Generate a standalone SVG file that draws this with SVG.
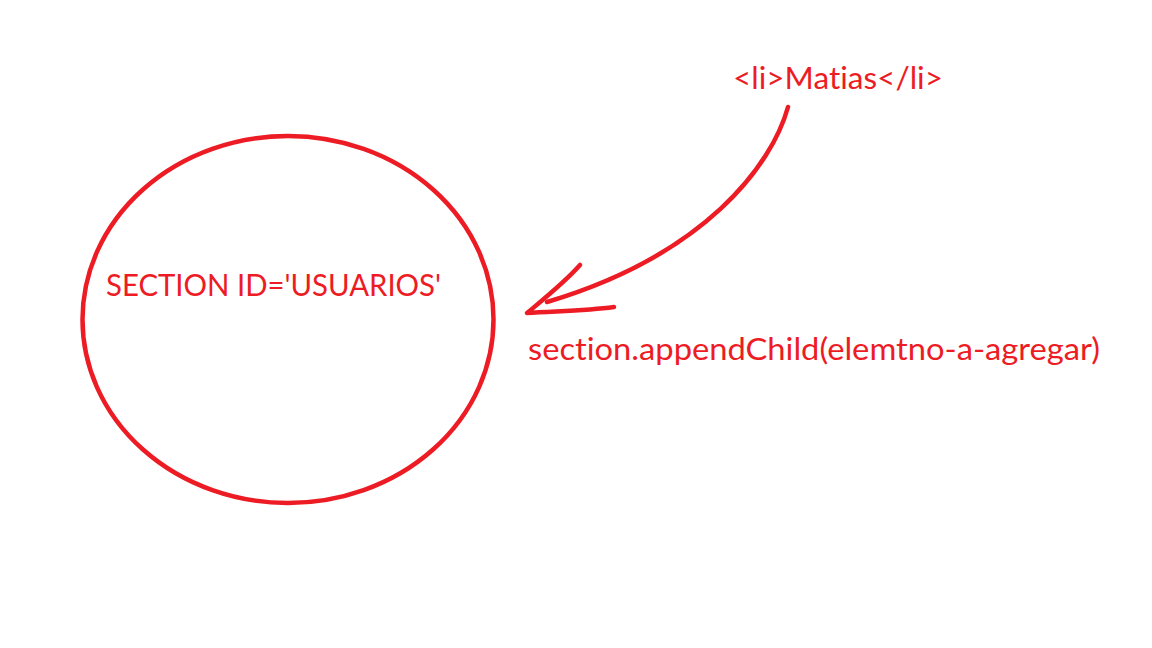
<svg xmlns="http://www.w3.org/2000/svg" width="1152" height="648" viewBox="0 0 1152 648">
<style>
.ink{fill:none;stroke:#ED1C24;stroke-width:4.5;stroke-linecap:round;stroke-linejoin:round}
.lbl{fill:#ED1C24;font-family:Lato,"Open Sans","Liberation Sans",sans-serif;font-size:30px;font-variant-ligatures:none;font-feature-settings:"liga" 0,"dlig" 0}
</style>
<rect x="0" y="0" width="1152" height="648" fill="#ffffff"/>
<g id="section-node">
<ellipse class="ink" cx="288" cy="319.5" rx="205.5" ry="183.5"/>
<text class="lbl" x="106" y="296" textLength="335" lengthAdjust="spacingAndGlyphs">SECTION ID='USUARIOS'</text>
</g>
<g id="li-node">
<text class="lbl" x="733" y="89" textLength="210" lengthAdjust="spacingAndGlyphs">&lt;li&gt;Matias&lt;/li&gt;</text>
</g>
<g id="connectors">
<path class="ink" d="M788,107 C772,165 705,255 547,302"/>
<path class="ink" d="M580,265 C565,282 545,298 527,313 C555,311 585,311 614,307"/>
<text class="lbl" x="528" y="360" textLength="572" lengthAdjust="spacingAndGlyphs">section.appendChild(elemtno-a-agregar)</text>
</g>
</svg>
